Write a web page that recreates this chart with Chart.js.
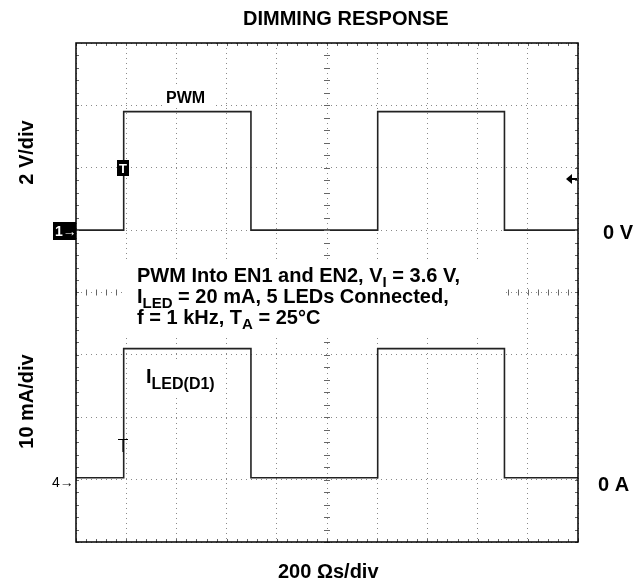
<!DOCTYPE html>
<html>
<head>
<meta charset="utf-8">
<script src="https://cdn.jsdelivr.net/npm/chart.js@4.4.1/dist/chart.umd.min.js"></script>
<style>
  html, body { margin: 0; padding: 0; background: #ffffff; }
  #wrap { width: 641px; height: 586px; }
</style>
</head>
<body>
<div id="wrap"><canvas id="c" width="641" height="586"></canvas></div>
<script>
// ---- data ----
const timeUs        = [0, 190, 190, 697, 697, 1202, 1202, 1707, 1707, 2000];
const pwmVolts      = [0, 0, 3.8, 3.8, 0, 0, 3.8, 3.8, 0, 0];
const iledMilliamps = [0, 0, 20.7, 20.7, 0, 0, 20.7, 20.7, 0, 0];
// graticule: 10 horizontal divisions of 200 us, 8 vertical divisions
const timeDivs = [0, 200, 400, 600, 800, 1000, 1200, 1400, 1600, 1800, 2000];
const vertDivs = [-4, -3, -2, -1, 0, 1, 2, 3, 4];

const title = 'DIMMING RESPONSE';
const xLabel = '200 \u03A9s/div';
const yLabelTop = '2 V/div';
const yLabelBottom = '10 mA/div';

const FONT = '"Liberation Sans", Arial, sans-serif';

function richText(ctx, x, y, parts, size, subSize, subDy) {
  let cx = x;
  for (const [t, kind] of parts) {
    if (kind === 's') {
      ctx.font = 'bold ' + subSize + 'px ' + FONT;
      ctx.fillText(t, cx, y + subDy);
    } else {
      ctx.font = 'bold ' + size + 'px ' + FONT;
      ctx.fillText(t, cx, y);
    }
    cx += ctx.measureText(t).width;
  }
  return cx;
}

const scopePlugin = {
  id: 'scope',
  afterDraw(chart) {
    const ctx = chart.ctx;
    const a = chart.chartArea;
    const xs = chart.scales.x, ys = chart.scales.y;
    ctx.save();

    // minor graticule ticks on the centre lines and borders
    ctx.strokeStyle = '#666';
    ctx.lineWidth = 1;
    const cy = ys.getPixelForValue(0), cxp = xs.getPixelForValue(1000);
    ctx.beginPath();
    for (let t = 0; t <= 2000; t += 40) {
      const px = Math.round(xs.getPixelForValue(t)) + 0.5;
      ctx.moveTo(px, cy - 3); ctx.lineTo(px, cy + 3);
      ctx.moveTo(px, a.top); ctx.lineTo(px, a.top + 3);
      ctx.moveTo(px, a.bottom); ctx.lineTo(px, a.bottom - 3);
    }
    for (let v = -4; v <= 4; v += 0.2) {
      const py = Math.round(ys.getPixelForValue(v)) + 0.5;
      ctx.moveTo(cxp - 3, py); ctx.lineTo(cxp + 3, py);
      ctx.moveTo(a.left, py); ctx.lineTo(a.left + 3, py);
      ctx.moveTo(a.right, py); ctx.lineTo(a.right - 3, py);
    }
    ctx.stroke();

    // white backgrounds behind in-plot labels
    ctx.fillStyle = '#ffffff';
    ctx.fillRect(125, 262, 380, 72);
    ctx.fillRect(141, 362, 82, 34);
    ctx.fillRect(162, 88, 50, 18);

    // frame
    ctx.strokeStyle = '#000';
    ctx.lineWidth = 1.5;
    ctx.strokeRect(a.left, a.top, a.right - a.left, a.bottom - a.top);

    ctx.fillStyle = '#000';
    ctx.textBaseline = 'alphabetic';
    ctx.textAlign = 'left';

    // title
    ctx.font = 'bold 20px ' + FONT;
    ctx.fillText(title, 243, 25);
    // x label
    ctx.fillText(xLabel, 278, 578);
    // right labels
    ctx.fillText('0 V', 603, 239);
    ctx.fillText('0 A', 598, 491);

    // rotated left labels
    ctx.textAlign = 'center';
    ctx.save(); ctx.translate(33, 152.5); ctx.rotate(-Math.PI / 2);
    ctx.fillText(yLabelTop, 0, 0); ctx.restore();
    ctx.save(); ctx.translate(33, 401.5); ctx.rotate(-Math.PI / 2);
    ctx.fillText(yLabelBottom, 0, 0); ctx.restore();
    ctx.textAlign = 'left';

    // annotation block
    richText(ctx, 137, 282, [['PWM Into EN1 and EN2, V', 'n'], ['I', 's'], [' = 3.6 V,', 'n']], 20, 15, 5);
    richText(ctx, 137, 303, [['I', 'n'], ['LED', 's'], [' = 20 mA, 5 LEDs Connected,', 'n']], 20, 15, 5);
    richText(ctx, 137, 324, [['f = 1 kHz, T', 'n'], ['A', 's'], [' = 25\u00B0C', 'n']], 20, 15, 5);

    // trace labels
    ctx.font = 'bold 16px ' + FONT;
    ctx.fillText('PWM', 166, 103);
    richText(ctx, 146, 383, [['I', 'n'], ['LED(D1)', 's']], 20, 16, 6);

    // channel 1 marker
    ctx.fillStyle = '#000';
    ctx.fillRect(53, 222, 23, 18);
    ctx.fillStyle = '#fff';
    ctx.font = 'bold 14px ' + FONT;
    ctx.fillText('1\u2192', 55, 236);
    // channel 4 marker
    ctx.fillStyle = '#000';
    ctx.font = '14px ' + FONT;
    ctx.fillText('4\u2192', 52, 487);

    // trigger marker on PWM edge
    ctx.fillRect(117, 160, 12, 16);
    ctx.fillStyle = '#fff';
    ctx.font = 'bold 13px ' + FONT;
    ctx.fillText('T', 119, 173);
    // small T on current edge
    ctx.strokeStyle = '#000';
    ctx.lineWidth = 1.2;
    ctx.beginPath();
    ctx.moveTo(118, 439.5); ctx.lineTo(128, 439.5);
    ctx.moveTo(123, 439.5); ctx.lineTo(123, 452);
    ctx.stroke();
    // trigger level arrow on right
    ctx.fillStyle = '#000';
    ctx.beginPath();
    ctx.moveTo(566, 179); ctx.lineTo(572, 174); ctx.lineTo(572, 184); ctx.closePath();
    ctx.fill();
    ctx.lineWidth = 2;
    ctx.beginPath(); ctx.moveTo(570, 179); ctx.lineTo(577, 179); ctx.stroke();

    ctx.restore();
  }
};

const pwmPts = timeUs.map((t, i) => ({ x: t, y: pwmVolts[i] }));
const iledPts = timeUs.map((t, i) => ({ x: t, y: iledMilliamps[i] }));

new Chart(document.getElementById('c'), {
  type: 'line',
  data: {
    datasets: [
      { label: 'PWM', data: pwmPts, yAxisID: 'yV', borderColor: '#222', borderWidth: 1.6, pointRadius: 0, fill: false, tension: 0 },
      { label: 'ILED(D1)', data: iledPts, yAxisID: 'yI', borderColor: '#222', borderWidth: 1.6, pointRadius: 0, fill: false, tension: 0 }
    ]
  },
  options: {
    responsive: false,
    animation: false,
    events: [],
    layout: { padding: { left: 76, right: 63, top: 43, bottom: 44 } },
    plugins: { legend: { display: false }, tooltip: { enabled: false }, title: { display: false } },
    scales: {
      x: {
        type: 'linear', min: timeDivs[0], max: timeDivs[timeDivs.length - 1],
        afterBuildTicks: (s) => { s.ticks = timeDivs.map(v => ({ value: v })); },
        ticks: { display: false },
        grid: { color: '#8a8a8a', lineWidth: 1, drawTicks: false },
        border: { display: false, dash: [1, 4] }
      },
      y: {
        type: 'linear', min: vertDivs[0], max: vertDivs[vertDivs.length - 1],
        afterBuildTicks: (s) => { s.ticks = vertDivs.map(v => ({ value: v })); },
        ticks: { display: false },
        grid: { color: '#8a8a8a', lineWidth: 1, drawTicks: false },
        border: { display: false, dash: [1, 4] }
      },
      yV: { type: 'linear', display: false, min: -10, max: 6 },
      yI: { type: 'linear', display: false, min: -10.3, max: 69.7 }
    }
  },
  plugins: [scopePlugin]
});
</script>
</body>
</html>
